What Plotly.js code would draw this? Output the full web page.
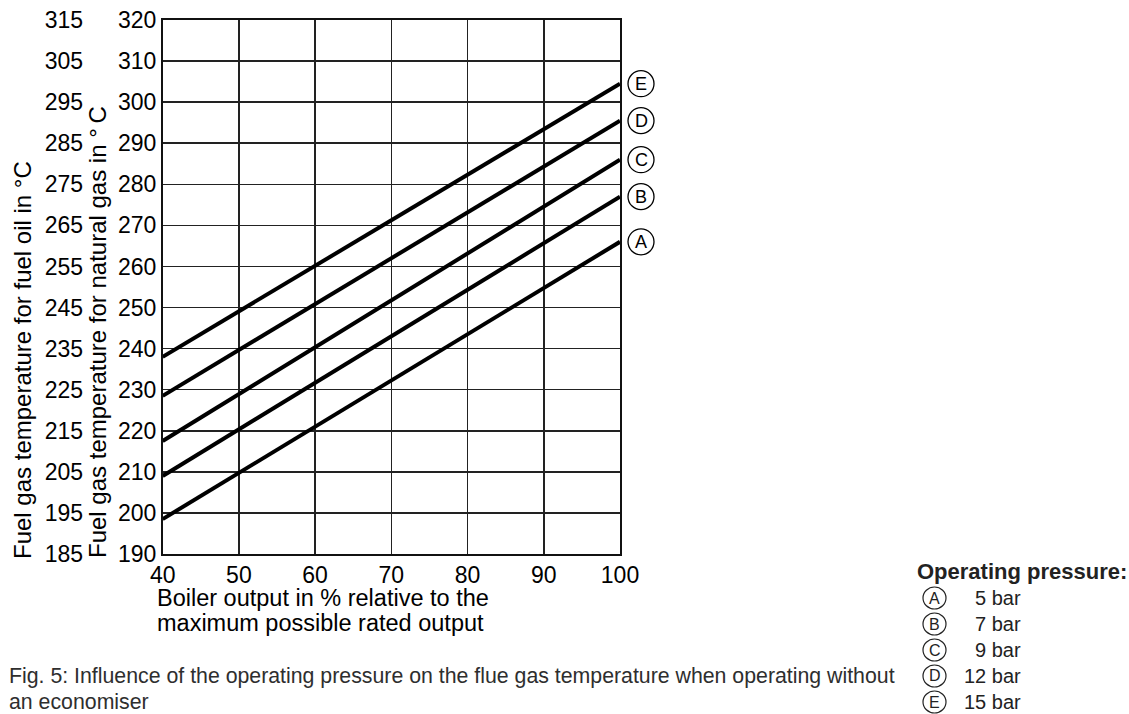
<!DOCTYPE html>
<html>
<head>
<meta charset="utf-8">
<script src="https://cdn.plot.ly/plotly-3.0.1.min.js"></script>
<style>
html,body{margin:0;padding:0;background:#fff;}
#chart{width:1129px;height:714px;}
</style>
</head>
<body>
<div id="chart"></div>
<script>
// ---- data ----
const boilerOutput = [40, 100];
const seriesA = [198.5, 266];
const seriesB = [209, 277];
const seriesC = [217.5, 286];
const seriesD = [228.5, 295.5];
const seriesE = [238, 304.5];
const seriesNames = ['A', 'B', 'C', 'D', 'E'];
const pressures = ['5 bar', '7 bar', '9 bar', '12 bar', '15 bar'];
const gasRange = [190, 320];
const oilRange = [185, 315];
const xRange = [40, 100];

const allSeries = [seriesA, seriesB, seriesC, seriesD, seriesE];

// ---- layout helpers ----
const W = 1129, H = 714;
const M = {l: 0, r: 0, t: 20, b: 160};
const plotH = H - M.t - M.b;
const px = v => v / W;
const py = v => (H - M.b - v) / plotH;
const FONT = 'Liberation Sans, Arial, sans-serif';
const xDomain = [px(162.7), px(620)];
// data x -> paper x through the x axis scale
const xToPaper = v => xDomain[0] + (v - xRange[0]) / (xRange[1] - xRange[0]) * (xDomain[1] - xDomain[0]);

const traces = allSeries.map((s, i) => ({
  x: boilerOutput, y: s, type: 'scatter', mode: 'lines',
  name: seriesNames[i], line: {color: '#000', width: 4},
  hoverinfo: 'x+y', showlegend: false, xaxis: 'x', yaxis: 'y'
}));
// invisible trace so the fuel-oil axis is drawn
traces.push({x: xRange, y: oilRange, type: 'scatter', mode: 'none',
  xaxis: 'x', yaxis: 'y2', showlegend: false, hoverinfo: 'skip'});

const annotations = [];
const shapes = [];
// series labels (circled letters) at line ends
allSeries.forEach((s, i) => {
  const endX = boilerOutput[boilerOutput.length - 1];
  const endY = s[s.length - 1];
  shapes.push({type: 'circle', xref: 'paper', yref: 'y',
    xsizemode: 'pixel', ysizemode: 'pixel', xanchor: xToPaper(endX), yanchor: endY,
    x0: 8, x1: 34, y0: -13, y1: 13,
    line: {color: '#000', width: 1.3}, fillcolor: 'rgba(0,0,0,0)'});
  annotations.push({x: endX, y: endY, xref: 'x', yref: 'y',
    text: seriesNames[i], showarrow: false, xshift: 21, yshift: 0,
    xanchor: 'center', yanchor: 'middle', font: {family: FONT, size: 18, color: '#000'}});
});
// y titles
annotations.push({x: px(22), y: py(561), xref: 'paper', yref: 'paper',
  text: 'Fuel gas temperature for fuel oil in °C', textangle: -90, showarrow: false,
  xanchor: 'center', yanchor: 'bottom', font: {family: FONT, size: 24, color: '#000'}});
annotations.push({x: px(97), y: py(560), xref: 'paper', yref: 'paper',
  text: 'Fuel gas temperature for natural gas in °\u2009C', textangle: -90, showarrow: false,
  xanchor: 'center', yanchor: 'bottom', font: {family: FONT, size: 24, color: '#000'}});
// x title (two lines)
annotations.push({x: px(155), y: py(598), xref: 'paper', yref: 'paper',
  text: 'Boiler output in % relative to the', showarrow: false,
  xanchor: 'left', yanchor: 'middle', font: {family: FONT, size: 23.5, color: '#000'}});
annotations.push({x: px(155), y: py(623), xref: 'paper', yref: 'paper',
  text: 'maximum possible rated output', showarrow: false,
  xanchor: 'left', yanchor: 'middle', font: {family: FONT, size: 23.5, color: '#000'}});
// caption
annotations.push({x: px(7), y: py(676), xref: 'paper', yref: 'paper',
  text: 'Fig. 5: Influence of the operating pressure on the flue gas temperature when operating without',
  showarrow: false, xanchor: 'left', yanchor: 'middle', font: {family: FONT, size: 21.3, color: '#2e2e2e'}});
annotations.push({x: px(7), y: py(702), xref: 'paper', yref: 'paper',
  text: 'an economiser', showarrow: false, xanchor: 'left', yanchor: 'middle',
  font: {family: FONT, size: 21.3, color: '#2e2e2e'}});
// legend block
annotations.push({x: px(1129), y: py(571), xref: 'paper', yref: 'paper',
  text: '<b>Operating pressure:</b>', showarrow: false, xanchor: 'right', yanchor: 'middle',
  font: {family: FONT, size: 22, color: '#222'}});
pressures.forEach((p, i) => {
  const yy = 598 + i * 26;
  shapes.push({type: 'circle', xref: 'paper', yref: 'paper',
    xsizemode: 'pixel', ysizemode: 'pixel', xanchor: px(934.5), yanchor: py(yy),
    x0: -11.5, x1: 11.5, y0: -11, y1: 11,
    line: {color: '#222', width: 1.2}, fillcolor: 'rgba(0,0,0,0)'});
  annotations.push({x: px(934.5), y: py(yy), xref: 'paper', yref: 'paper',
    text: seriesNames[i], showarrow: false, xanchor: 'center', yanchor: 'middle',
    font: {family: FONT, size: 16, color: '#222'}});
  annotations.push({x: px(1023), y: py(yy), xref: 'paper', yref: 'paper',
    text: p, showarrow: false, xanchor: 'right', yanchor: 'middle',
    font: {family: FONT, size: 20, color: '#222'}});
});

const layout = {
  width: W, height: H,
  margin: M,
  paper_bgcolor: '#fff', plot_bgcolor: '#fff',
  showlegend: false,
  font: {family: FONT, size: 23, color: '#000'},
  xaxis: {
    domain: xDomain, range: xRange, dtick: 10, tick0: 40,
    showgrid: true, gridcolor: '#222', gridwidth: 1.6,
    showline: true, mirror: true, linecolor: '#111', linewidth: 1.8,
    zeroline: false, ticks: '', tickfont: {family: FONT, size: 23, color: '#000'},
    fixedrange: true
  },
  yaxis: {
    range: gasRange, dtick: 10, tick0: 190,
    showgrid: true, gridcolor: '#222', gridwidth: 1.6,
    showline: true, mirror: true, linecolor: '#111', linewidth: 1.8,
    zeroline: false, ticks: '', tickfont: {family: FONT, size: 23, color: '#000'},
    fixedrange: true
  },
  yaxis2: {
    overlaying: 'y', anchor: 'free', position: px(83), side: 'left',
    range: oilRange, dtick: 10, tick0: 185,
    showgrid: false, showline: false, zeroline: false, ticks: '',
    tickfont: {family: FONT, size: 23, color: '#000'}, fixedrange: true
  },
  shapes: shapes,
  annotations: annotations
};

Plotly.newPlot('chart', traces, layout, {displayModeBar: false, staticPlot: true});
</script>
</body>
</html>
